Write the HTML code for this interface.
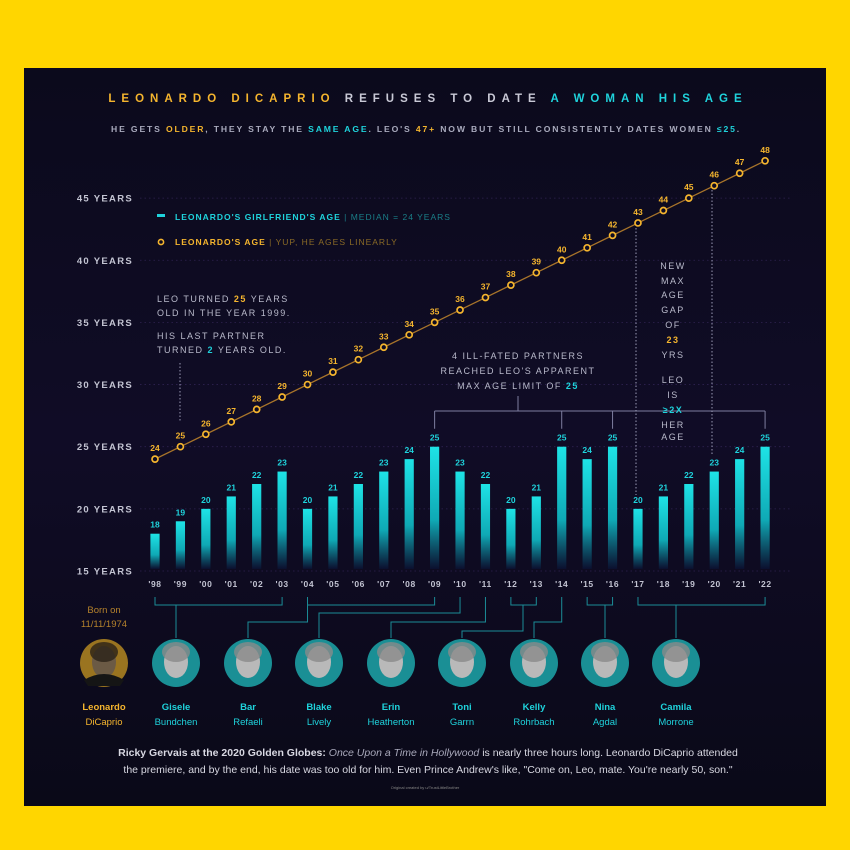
<!DOCTYPE html>
<html><head><meta charset="utf-8"><style>
html,body{margin:0;padding:0;background:#ffd600;}
body{width:850px;height:850px;overflow:hidden;position:relative;font-family:"Liberation Sans",sans-serif;}
svg{position:absolute;left:0;top:0;}
</style></head><body>
<svg id="chart" width="850" height="850" viewBox="0 0 850 850">
<defs>
<linearGradient id="bg" x1="0" y1="0" x2="0" y2="1"><stop offset="0" stop-color="#0b0a1c"/><stop offset="0.5" stop-color="#100c26"/><stop offset="1" stop-color="#0a0918"/></linearGradient>
<linearGradient id="barg" x1="0" y1="0" x2="0" y2="1"><stop offset="0" stop-color="#1ee3e6"/><stop offset="0.6" stop-color="#0fa9b5"/><stop offset="1" stop-color="#0b1030" stop-opacity="0.9"/></linearGradient>
</defs>
<rect x="24" y="68" width="802" height="738" fill="url(#bg)"/>
<g font-weight="bold" font-size="11.5" letter-spacing="6" text-anchor="middle">
<text x="428" y="102"><tspan fill="#f5b52e">LEONARDO DICAPRIO</tspan><tspan fill="#c9c9d6"> REFUSES TO DATE </tspan><tspan fill="#1fd3dc">A WOMAN HIS AGE</tspan></text>
</g>
<text x="426" y="132" text-anchor="middle" font-size="8.6" font-weight="bold" letter-spacing="1.85" fill="#a9aabd">HE GETS <tspan fill="#f5b52e">OLDER</tspan>, THEY STAY THE <tspan fill="#1fd3dc">SAME AGE</tspan>. LEO'S <tspan fill="#f5b52e">47+</tspan> NOW BUT STILL CONSISTENTLY DATES WOMEN <tspan fill="#1fd3dc">≤25</tspan>.</text>
<g id="axes"></g>
<g id="marks"></g>
<g font-size="8.5" font-weight="bold" letter-spacing="1">
<rect x="157" y="214" width="8" height="3" fill="#1fd3dc"/>
<text x="175" y="220" fill="#1fd3dc">LEONARDO'S GIRLFRIEND'S AGE <tspan fill="#1a7f88" font-weight="normal">  |  MEDIAN = 24 YEARS</tspan></text>
<circle cx="161" cy="242" r="2.6" fill="none" stroke="#f5b52e" stroke-width="1.6"/>
<text x="175" y="245" fill="#f5b52e">LEONARDO'S AGE <tspan fill="#8a6a26" font-weight="normal">  |  YUP, HE AGES LINEARLY</tspan></text>
</g>
<g font-size="9" letter-spacing="1.5" fill="#b9bacb">
<text x="157" y="302">LEO TURNED <tspan fill="#f5b52e" font-weight="bold">25</tspan> YEARS</text>
<text x="157" y="316">OLD IN THE YEAR 1999.</text>
<text x="157" y="339">HIS LAST PARTNER</text>
<text x="157" y="353">TURNED <tspan fill="#1fd3dc" font-weight="bold">2</tspan> YEARS OLD.</text>
</g>
<line x1="180" y1="363" x2="180" y2="422" stroke="#9a9ab5" stroke-width="1" stroke-dasharray="1.5,2"/>
<g font-size="9" letter-spacing="1.5" fill="#b9bacb" text-anchor="middle">
<text x="518" y="359">4 ILL-FATED PARTNERS</text>
<text x="518" y="374">REACHED LEO'S APPARENT</text>
<text x="518" y="389">MAX AGE LIMIT OF <tspan fill="#1fd3dc" font-weight="bold">25</tspan></text>
</g>
<g font-size="9" letter-spacing="1.5" fill="#b9bacb" text-anchor="middle">
<text x="673" y="269">NEW</text><text x="673" y="284">MAX</text><text x="673" y="298">AGE</text><text x="673" y="313">GAP</text><text x="673" y="328">OF</text>
<text x="673" y="343" fill="#f5b52e" font-weight="bold">23</text><text x="673" y="358">YRS</text>
<text x="673" y="383">LEO</text><text x="673" y="398">IS</text><text x="673" y="413" fill="#1fd3dc" font-weight="bold">≥2X</text><text x="673" y="428">HER</text><text x="673" y="440">AGE</text>
</g>
<line x1="636" y1="228" x2="636" y2="495" stroke="#9a9ab5" stroke-dasharray="1.5,2"/>
<line x1="712" y1="190" x2="712" y2="455" stroke="#9a9ab5" stroke-dasharray="1.5,2"/>
<g id="people"></g>
<g font-size="10.5" fill="#d8d8e2" text-anchor="middle">
<text x="428" y="756"><tspan font-weight="bold">Ricky Gervais at the 2020 Golden Globes:</tspan>  <tspan font-style="italic" fill="#a9a9bb">Once Upon a Time in Hollywood</tspan> is nearly three hours long. Leonardo DiCaprio attended</text>
<text x="428" y="773">the premiere, and by the end, his date was too old for him.  Even Prince Andrew's like, "Come on, Leo, mate. You're nearly 50, son."</text>
</g>
<text x="425" y="789" font-size="4" fill="#888" text-anchor="middle">Original created by u/TrustLittleBrother</text>
</svg>
<script>
const years = ["'98","'99","'00","'01","'02","'03","'04","'05","'06","'07","'08","'09","'10","'11","'12","'13","'14","'15","'16","'17","'18","'19","'20","'21","'22"];
const girlfriendAges = [18,19,20,21,22,23,20,21,22,23,24,25,23,22,20,21,25,24,25,20,21,22,23,24,25];
const leoAges = [24,25,26,27,28,29,30,31,32,33,34,35,36,37,38,39,40,41,42,43,44,45,46,47,48];
const yTicks = [15,20,25,30,35,40,45];
const yTickLabels = ["15 YEARS","20 YEARS","25 YEARS","30 YEARS","35 YEARS","40 YEARS","45 YEARS"];
const names = [["Leonardo","DiCaprio"],["Gisele","Bundchen"],["Bar","Refaeli"],["Blake","Lively"],["Erin","Heatherton"],["Toni","Garrn"],["Kelly","Rohrbach"],["Nina","Agdal"],["Camila","Morrone"]];

const NS="http://www.w3.org/2000/svg";
const x = i => 155 + i*25.42;
const y = v => 571 - (v-15)*12.43;
function mk(tag, attrs, parent, txt){const e=document.createElementNS(NS,tag);for(const k in attrs)e.setAttribute(k,attrs[k]);if(txt!==undefined)e.textContent=txt;parent.appendChild(e);return e;}
const axes=document.getElementById('axes'), marks=document.getElementById('marks'), people=document.getElementById('people');

yTicks.forEach((t,i)=>{
  const l=mk('line',{x1:140,x2:790,y1:y(t),y2:y(t),stroke:'#2e2250','stroke-width':0.8,'stroke-dasharray':'1.5,3'},axes);
  
  
  const tx=mk('text',{x:133,y:y(t)+3.5,'text-anchor':'end','font-size':9.5,'font-weight':'bold','letter-spacing':1.3,fill:'#c3c4d2'},axes,yTickLabels[i]);
  
  
});
years.forEach((yr,i)=>{
  const tx=mk('text',{x:x(i),y:587,'text-anchor':'middle','font-size':8.5,'font-weight':'bold','letter-spacing':0.6,fill:'#c3c4d2'},axes,yr);
  
  
});
girlfriendAges.forEach((v,i)=>{
  const b=mk('rect',{x:x(i)-4.6,y:y(v),width:9.2,height:569-y(v),fill:'url(#barg)'},marks);
  
  
  const t=mk('text',{x:x(i),y:y(v)-6,'text-anchor':'middle','font-size':8.5,'font-weight':'bold',fill:'#1fd3dc'},marks,v);
  
  
});
const maxIdx = girlfriendAges.map((v,i)=>v===25?i:-1).filter(i=>i>=0);
const bx1=x(maxIdx[0]), bx2=x(maxIdx[maxIdx.length-1]), by=411;
const br=mk('path',{d:`M${bx1},${by}H${bx2}M518,396V${by}`+maxIdx.map(i=>`M${x(i)},${by}V${y(25)-18}`).join(''),fill:'none',stroke:'#7e7ea0','stroke-width':1},marks);


const pl=mk('polyline',{points:leoAges.map((v,i)=>`${x(i)},${y(v)}`).join(' '),fill:'none',stroke:'#a8742a','stroke-width':1.3},marks);


leoAges.forEach((v,i)=>{
  const c=mk('circle',{cx:x(i),cy:y(v),r:3,fill:'#0e0c22',stroke:'#f5b52e','stroke-width':1.7},marks);
  
  
  const t=mk('text',{x:x(i),y:y(v)-8,'text-anchor':'middle','font-size':8.5,'font-weight':'bold',fill:'#f5b52e'},marks,v);
  
  
});
const pcx=[104,176,248,319,391,462,534,605,676];
const C='#1b8c97';
const conn=[
 `M${x(0)},597V605H${x(5)}V597M176,605V638`,
 `M${x(6)},597V605H${x(11)}V597M${x(6)},605V622H248V638`,
 `M${x(12)},597V613H319V638`,
 `M${x(13)},597V622H391V638`,
 `M${x(14)},597V605H${x(15)}V597M523,605V631H462V638`,
 `M${x(16)},597V622H534V638`,
 `M${x(17)},597V605H${x(18)}V597M605,605V638`,
 `M${x(19)},597V605H${x(24)}V597M676,605V638`
];
conn.forEach(d=>{const p=mk('path',{d,fill:'none',stroke:C,'stroke-width':1},people);
  
  });
const b1=mk('text',{x:104,y:613,'text-anchor':'middle','font-size':9.5,fill:'#b5822c'},people,'Born on');


const b2=mk('text',{x:104,y:627,'text-anchor':'middle','font-size':9.5,fill:'#b5822c'},people,'11/11/1974');


names.forEach((n,i)=>{
  const leo=i===0;
  const g=mk('g',{},people);
  
  
  mk('ellipse',{cx:pcx[i],cy:663,rx:24,ry:24,fill:leo?'#9a7420':'#1a8f95'},g);
  mk('ellipse',{cx:pcx[i],cy:662,rx:12,ry:16,fill:leo?'#6b5a45':'#b9b9b9'},g);
  mk('ellipse',{cx:pcx[i],cy:652,rx:14,ry:10,fill:leo?'#2b2218':'#8a8a8a',opacity:0.8},g);
  if(leo) mk('path',{d:`M${pcx[i]-20},680Q${pcx[i]},668 ${pcx[i]+20},680L${pcx[i]+16},686H${pcx[i]-16}Z`,fill:'#151515'},g);
  const col=leo?'#f5b52e':'#1fd3dc';
  const t1=mk('text',{x:pcx[i],y:710,'text-anchor':'middle','font-size':9.5,'font-weight':'bold',fill:col},people,n[0]);
  
  
  const t2=mk('text',{x:pcx[i],y:725,'text-anchor':'middle','font-size':9.5,fill:col},people,n[1]);
  
  
});
</script>
</body></html>
